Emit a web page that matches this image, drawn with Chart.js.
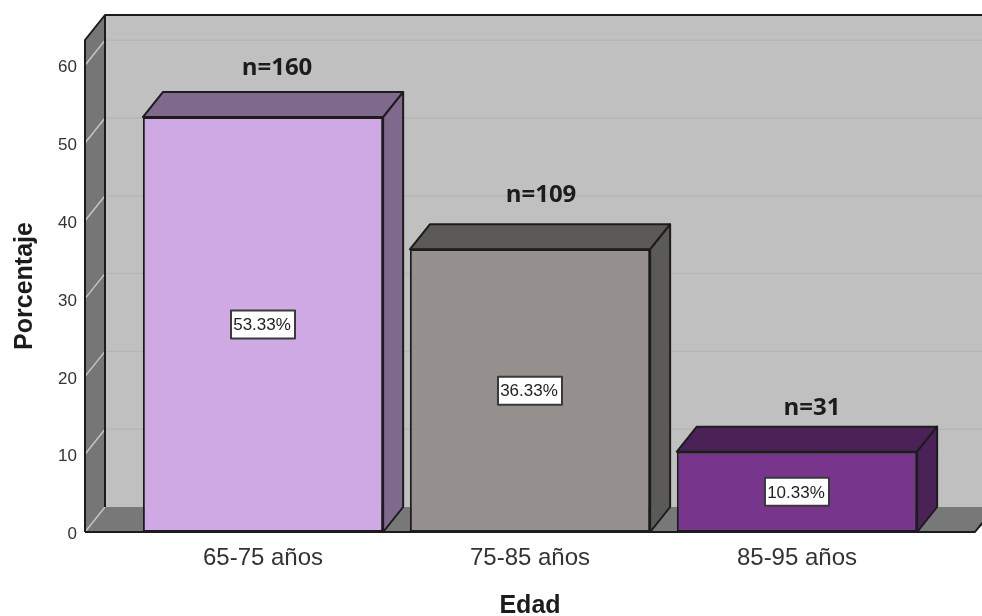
<!DOCTYPE html>
<html lang="es">
<head>
<meta charset="utf-8">
<title>Edad</title>
<script src="https://cdn.jsdelivr.net/npm/chart.js@4"></script>
<style>
  html, body { margin: 0; padding: 0; background: #fff; }
  canvas { display: block; }
</style>
</head>
<body>
<canvas id="edadChart" width="982" height="616"></canvas>
<script>
const ageGroups = ['65-75 años', '75-85 años', '85-95 años'];
const percentages = [53.33, 36.33, 10.33];
const counts = [160, 109, 31];
const yTicks = [0, 10, 20, 30, 40, 50, 60];

// colours per bar: front, top and side faces
const frontColors = ['#cfa9e4', '#958f8d', '#77368c'];
const shadeColors = ['#7f698c', '#5c5a57', '#4a2257'];
const LINE = '#1c1c1c';

// depth of the fake 3D box, in pixels
const DX = 20;
const DY = 25;

// where each n= caption sits relative to its bar
const captionShift = [[14, -49], [11, -54], [15, -43]];

function polygon(ctx, pts, fill, stroke, lineWidth) {
  ctx.beginPath();
  pts.forEach((p, i) => (i ? ctx.lineTo(p[0], p[1]) : ctx.moveTo(p[0], p[1])));
  ctx.closePath();
  if (fill) { ctx.fillStyle = fill; ctx.fill(); }
  if (stroke) { ctx.strokeStyle = stroke; ctx.lineWidth = lineWidth || 2; ctx.lineJoin = 'round'; ctx.stroke(); }
}

// walls, floor and gridlines behind the bars
const boxBackdrop = {
  id: 'boxBackdrop',
  afterLayout(chart) {
    // the y labels sit a little below their tick
    chart.scales.y.getLabelItems().forEach(item => { item.options.translation[1] += 2.5; });
  },
  beforeDatasetsDraw(chart) {
    const { ctx, chartArea: a, scales: { y } } = chart;
    const left = a.left, right = a.right, top = a.top, base = a.bottom;
    ctx.save();
    polygon(ctx, [[left + DX, top - DY], [right + DX, top - DY], [right + DX, base - DY], [left + DX, base - DY]], '#c0c0c0');
    polygon(ctx, [[left, base], [left + DX, base - DY], [right + DX, base - DY], [right - 7, base]], '#787878');
    polygon(ctx, [[left, top], [left + DX, top - DY], [left + DX, base - DY], [left, base]], '#767676');

    yTicks.forEach(v => {
      const py = y.getPixelForValue(v);
      ctx.lineWidth = 1.5;
      ctx.strokeStyle = '#b6b6b6';
      if (v > 0) {
        ctx.beginPath();
        ctx.moveTo(left + DX, py - DY);
        ctx.lineTo(right, py - DY);
        ctx.stroke();
      }
      ctx.strokeStyle = '#c4c4c4';
      ctx.beginPath();
      ctx.moveTo(left, py);
      ctx.lineTo(left + DX, py - DY);
      ctx.stroke();
    });
    // outline of the walls and the base line
    ctx.strokeStyle = LINE;
    ctx.lineWidth = 2;
    ctx.lineJoin = 'round';
    ctx.beginPath();
    ctx.moveTo(left, base);
    ctx.lineTo(left, top);
    ctx.lineTo(left + DX, top - DY);
    ctx.lineTo(right, top - DY);
    ctx.moveTo(left + DX, top - DY);
    ctx.lineTo(left + DX, base - DY);
    ctx.moveTo(left, base);
    ctx.lineTo(right - 7, base);
    ctx.lineTo(right, base - 9);
    ctx.stroke();
    ctx.restore();
  }
};

// top and side faces of each bar, then the value boxes and captions
const boxFaces = {
  id: 'boxFaces',
  afterDatasetsDraw(chart) {
    const { ctx } = chart;
    const bars = chart.getDatasetMeta(0).data;
    ctx.save();
    bars.forEach((bar, i) => {
      const l = bar.x - bar.width / 2;
      const r = bar.x + bar.width / 2;
      const t = bar.y;
      const b = bar.base;
      polygon(ctx, [[l, t], [l + DX, t - DY], [r + DX, t - DY], [r, t]], shadeColors[i], LINE);
      polygon(ctx, [[r, t], [r + DX, t - DY], [r + DX, b - DY], [r, b]], shadeColors[i], LINE);

      // percentage box in the middle of the front face
      const midY = (t + b) / 2;
      ctx.fillStyle = '#fff';
      ctx.strokeStyle = '#3a3a3a';
      ctx.lineWidth = 2;
      ctx.fillRect(bar.x - 32, midY - 14, 64, 28);
      ctx.strokeRect(bar.x - 32, midY - 14, 64, 28);
      ctx.fillStyle = '#222';
      ctx.font = '17px "Liberation Sans"';
      ctx.textAlign = 'center';
      ctx.textBaseline = 'middle';
      ctx.fillText(percentages[i].toFixed(2) + '%', bar.x - 1, midY + 1);

      ctx.font = 'bold 24px "Open Sans"';
      ctx.fillStyle = '#1c1c1c';
      ctx.fillText('n=' + counts[i], bar.x + captionShift[i][0], t + captionShift[i][1]);
    });

    ctx.font = 'bold 25px "Liberation Sans"';
    ctx.fillStyle = '#1c1c1c';
    ctx.fillText('Edad', 530, 606);
    ctx.restore();
  }
};

new Chart(document.getElementById('edadChart'), {
  type: 'bar',
  data: {
    datasets: [{
      data: percentages.map((v, i) => ({ x: i + 1, y: v })),
      backgroundColor: frontColors,
      borderColor: LINE,
      borderWidth: 2,
      borderSkipped: false,
      barPercentage: 0.9,
      categoryPercentage: 1
    }]
  },
  options: {
    responsive: false,
    animation: false,
    layout: { padding: { top: 40 } },
    plugins: {
      legend: { display: false },
      tooltip: { enabled: false }
    },
    scales: {
      x: {
        type: 'linear',
        offset: false,
        min: 0.3333,
        max: 3.693,
        afterFit: s => { s.height = 84; },
        afterBuildTicks: s => { s.ticks = ageGroups.map((_, i) => ({ value: i + 1 })); },
        grid: { display: false, drawTicks: false },
        border: { display: false },
        ticks: {
          callback: v => ageGroups[v - 1],
          color: '#333',
          font: { family: '"Liberation Sans"', size: 24 },
          padding: 12,
          autoSkip: false,
          maxRotation: 0
        }
      },
      y: {
        min: 0,
        max: 63.24,
        afterFit: s => { s.width = 85; },
        afterBuildTicks: s => { s.ticks = yTicks.map(v => ({ value: v })); },
        grid: { display: false, drawTicks: false },
        border: { display: false },
        title: {
          display: true,
          text: 'Porcentaje',
          color: '#1c1c1c',
          font: { family: '"Liberation Sans"', size: 25, weight: 'bold' },
          padding: { top: 10, bottom: 0 }
        },
        ticks: {
          color: '#333',
          font: { family: '"Liberation Sans"', size: 17 },
          padding: 8
        }
      }
    }
  },
  plugins: [boxBackdrop, boxFaces]
});
</script>
</body>
</html>
